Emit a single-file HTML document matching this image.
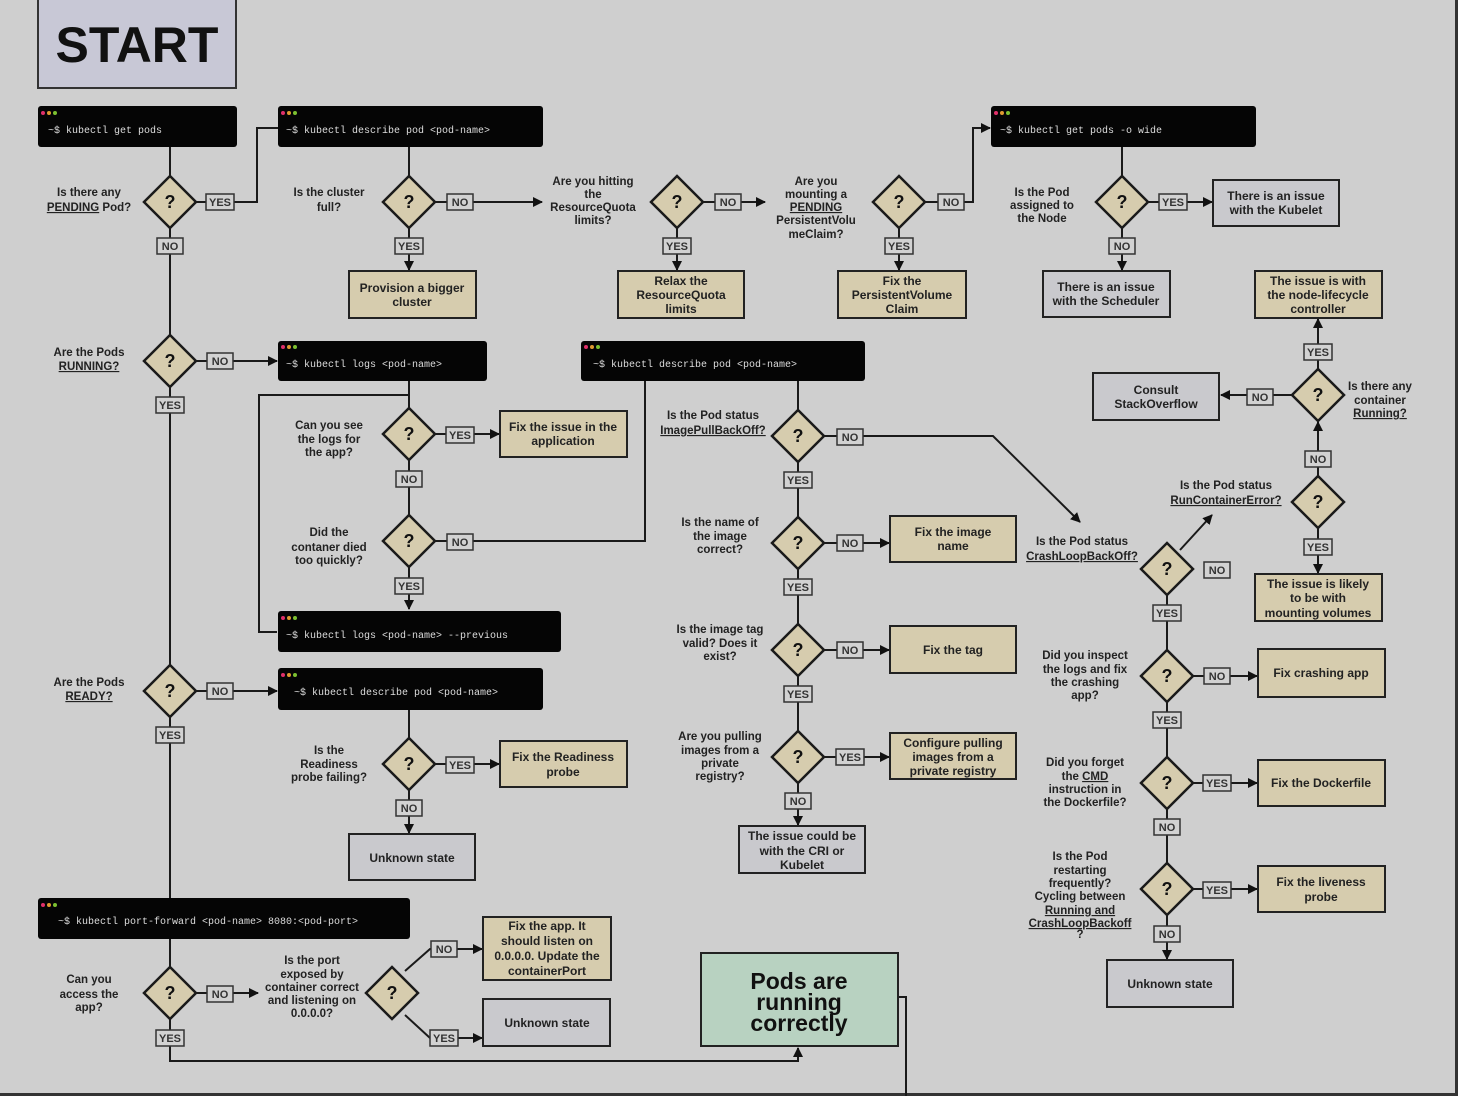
<!DOCTYPE html>
<html><head><meta charset="utf-8">
<style>
html,body{margin:0;padding:0;background:#cfcfcf;}
svg{display:block;}
.q{font-family:"Liberation Sans",sans-serif;font-weight:bold;font-size:11.5px;fill:#222;text-anchor:middle;}
.b{font-family:"Liberation Sans",sans-serif;font-weight:bold;font-size:12px;fill:#222;text-anchor:middle;}
.l{font-family:"Liberation Sans",sans-serif;font-weight:bold;font-size:11px;fill:#333;text-anchor:middle;}
.t{font-family:"Liberation Mono",monospace;font-size:10px;fill:#ddd;}
.qm{font-family:"Liberation Sans",sans-serif;font-weight:bold;font-size:18px;fill:#111;text-anchor:middle;}
.ln{stroke:#1a1a1a;stroke-width:2;fill:none;}
.tan{fill:#d6ccae;stroke:#222;stroke-width:2;}
.gry{fill:#c9c9cd;stroke:#222;stroke-width:2;}
.lb{fill:#d2d2d2;stroke:#333;stroke-width:1.5;}
.dm{fill:#d6ccae;stroke:#1a1a1a;stroke-width:2.5;}
</style></head><body>
<svg width="1458" height="1096" viewBox="0 0 1458 1096" xmlns="http://www.w3.org/2000/svg">
<defs><marker id="a" viewBox="0 0 10 10" refX="9" refY="5" markerWidth="5" markerHeight="5" orient="auto"><path d="M0,0L10,5L0,10z" fill="#111"/></marker></defs>
<rect width="1458" height="1096" fill="#cfcfcf"/>
<rect x="0" y="1093" width="1458" height="3" fill="#333"/>
<rect x="1455" y="0" width="3" height="1096" fill="#333"/>

<!-- START -->
<rect x="38" y="-2" width="198" height="90" fill="#c8c8d6" stroke="#333" stroke-width="2"/>
<text x="137" y="62" font-family="Liberation Sans,sans-serif" font-weight="bold" font-size="50" text-anchor="middle" fill="#111">START</text>

<!-- connectors -->
<g class="ln">
<path d="M170 147V176M170 228V335M170 387V665M170 717V898M170 939V967M170 1019V1061H798V1048" marker-end="url(#a)"/>
<path d="M196 202H257V128H278"/>
<path d="M409 147V176M409 228V270" marker-end="url(#a)"/>
<path d="M435 202H542" marker-end="url(#a)"/>
<path d="M703 202H765" marker-end="url(#a)"/>
<path d="M677 228V270" marker-end="url(#a)"/>
<path d="M925 202H973V128H990" marker-end="url(#a)"/>
<path d="M899 228V270" marker-end="url(#a)"/>
<path d="M1122 147V176M1122 228V270" marker-end="url(#a)"/>
<path d="M1148 202H1212" marker-end="url(#a)"/>
<path d="M196 361H277" marker-end="url(#a)"/>
<path d="M409 381V408M409 460V515"/>
<path d="M435 434H499" marker-end="url(#a)"/>
<path d="M435 541H645V381"/>
<path d="M409 567V609" marker-end="url(#a)"/>
<path d="M409 395H259V632H277"/>
<path d="M196 691H277" marker-end="url(#a)"/>
<path d="M409 710V738M409 790V833" marker-end="url(#a)"/>
<path d="M435 764H499" marker-end="url(#a)"/>
<path d="M196 993H258" marker-end="url(#a)"/>
<path d="M405 971L430 949H482" marker-end="url(#a)"/>
<path d="M405 1015L430 1038H482" marker-end="url(#a)"/>
<path d="M798 381V410M798 462V517M798 569V624M798 676V731M798 783V825" marker-end="url(#a)"/>
<path d="M824 436H993L1080 522" marker-end="url(#a)"/>
<path d="M824 543H889" marker-end="url(#a)"/>
<path d="M824 650H889" marker-end="url(#a)"/>
<path d="M824 757H889" marker-end="url(#a)"/>
<path d="M1180 550L1212 515" marker-end="url(#a)"/>
<path d="M1167 595V650M1167 702V757M1167 809V863M1167 915V959" marker-end="url(#a)"/>
<path d="M1193 676H1257" marker-end="url(#a)"/>
<path d="M1193 783H1257" marker-end="url(#a)"/>
<path d="M1193 889H1257" marker-end="url(#a)"/>
<path d="M1318 528V573" marker-end="url(#a)"/>
<path d="M1318 476V422" marker-end="url(#a)"/>
<path d="M1292 395H1221" marker-end="url(#a)"/>
<path d="M1318 369V319" marker-end="url(#a)"/>
<path d="M898 997H906V1096"/>
</g>

<!-- terminals -->
<g>
<rect x="38" y="106" width="199" height="41" rx="3" fill="#050505"/>
<rect x="278" y="106" width="265" height="41" rx="3" fill="#050505"/>
<rect x="991" y="106" width="265" height="41" rx="3" fill="#050505"/>
<rect x="278" y="341" width="209" height="40" rx="3" fill="#050505"/>
<rect x="581" y="341" width="284" height="40" rx="3" fill="#050505"/>
<rect x="278" y="611" width="283" height="41" rx="3" fill="#050505"/>
<rect x="278" y="668" width="265" height="42" rx="3" fill="#050505"/>
<rect x="38" y="898" width="372" height="41" rx="3" fill="#050505"/>
</g>
<g>
<circle cx="43" cy="113" r="2" fill="#e0306a"/><circle cx="49" cy="113" r="2" fill="#e09a30"/><circle cx="55" cy="113" r="2" fill="#7cc030"/>
<circle cx="283" cy="113" r="2" fill="#e0306a"/><circle cx="289" cy="113" r="2" fill="#e09a30"/><circle cx="295" cy="113" r="2" fill="#7cc030"/>
<circle cx="996" cy="113" r="2" fill="#e0306a"/><circle cx="1002" cy="113" r="2" fill="#e09a30"/><circle cx="1008" cy="113" r="2" fill="#7cc030"/>
<circle cx="283" cy="347" r="2" fill="#e0306a"/><circle cx="289" cy="347" r="2" fill="#e09a30"/><circle cx="295" cy="347" r="2" fill="#7cc030"/>
<circle cx="586" cy="347" r="2" fill="#e0306a"/><circle cx="592" cy="347" r="2" fill="#e09a30"/><circle cx="598" cy="347" r="2" fill="#7cc030"/>
<circle cx="283" cy="618" r="2" fill="#e0306a"/><circle cx="289" cy="618" r="2" fill="#e09a30"/><circle cx="295" cy="618" r="2" fill="#7cc030"/>
<circle cx="283" cy="675" r="2" fill="#e0306a"/><circle cx="289" cy="675" r="2" fill="#e09a30"/><circle cx="295" cy="675" r="2" fill="#7cc030"/>
<circle cx="43" cy="905" r="2" fill="#e0306a"/><circle cx="49" cy="905" r="2" fill="#e09a30"/><circle cx="55" cy="905" r="2" fill="#7cc030"/>
</g>
<text class="t" x="48" y="133">~$ kubectl get pods</text>
<text class="t" x="286" y="133">~$ kubectl describe pod &lt;pod-name&gt;</text>
<text class="t" x="1000" y="133">~$ kubectl get pods -o wide</text>
<text class="t" x="286" y="367">~$ kubectl logs &lt;pod-name&gt;</text>
<text class="t" x="593" y="367">~$ kubectl describe pod &lt;pod-name&gt;</text>
<text class="t" x="286" y="638">~$ kubectl logs &lt;pod-name&gt; --previous</text>
<text class="t" x="294" y="695">~$ kubectl describe pod &lt;pod-name&gt;</text>
<text class="t" x="58" y="924">~$ kubectl port-forward &lt;pod-name&gt; 8080:&lt;pod-port&gt;</text>

<!-- diamonds -->
<g class="dm">
<polygon points="170,176 196,202 170,228 144,202"/>
<polygon points="409,176 435,202 409,228 383,202"/>
<polygon points="677,176 703,202 677,228 651,202"/>
<polygon points="899,176 925,202 899,228 873,202"/>
<polygon points="1122,176 1148,202 1122,228 1096,202"/>
<polygon points="170,335 196,361 170,387 144,361"/>
<polygon points="409,408 435,434 409,460 383,434"/>
<polygon points="409,515 435,541 409,567 383,541"/>
<polygon points="170,665 196,691 170,717 144,691"/>
<polygon points="409,738 435,764 409,790 383,764"/>
<polygon points="170,967 196,993 170,1019 144,993"/>
<polygon points="392,967 418,993 392,1019 366,993"/>
<polygon points="798,410 824,436 798,462 772,436"/>
<polygon points="798,517 824,543 798,569 772,543"/>
<polygon points="798,624 824,650 798,676 772,650"/>
<polygon points="798,731 824,757 798,783 772,757"/>
<polygon points="1167,543 1193,569 1167,595 1141,569"/>
<polygon points="1167,650 1193,676 1167,702 1141,676"/>
<polygon points="1167,757 1193,783 1167,809 1141,783"/>
<polygon points="1167,863 1193,889 1167,915 1141,889"/>
<polygon points="1318,476 1344,502 1318,528 1292,502"/>
<polygon points="1318,369 1344,395 1318,421 1292,395"/>
</g>
<g class="qm">
<text x="170" y="208">?</text><text x="409" y="208">?</text><text x="677" y="208">?</text><text x="899" y="208">?</text><text x="1122" y="208">?</text>
<text x="170" y="367">?</text><text x="409" y="440">?</text><text x="409" y="547">?</text><text x="170" y="697">?</text><text x="409" y="770">?</text>
<text x="170" y="999">?</text><text x="392" y="999">?</text><text x="798" y="442">?</text><text x="798" y="549">?</text><text x="798" y="656">?</text><text x="798" y="763">?</text>
<text x="1167" y="575">?</text><text x="1167" y="682">?</text><text x="1167" y="789">?</text><text x="1167" y="895">?</text><text x="1318" y="508">?</text><text x="1318" y="401">?</text>
</g>

<!-- YES/NO label boxes -->
<g id="labels">
<rect class="lb" x="206" y="194" width="28" height="16"/><text class="l" x="220" y="206">YES</text>
<rect class="lb" x="157" y="238" width="26" height="16"/><text class="l" x="170" y="250">NO</text>
<rect class="lb" x="447" y="194" width="26" height="16"/><text class="l" x="460" y="206">NO</text>
<rect class="lb" x="395" y="238" width="28" height="16"/><text class="l" x="409" y="250">YES</text>
<rect class="lb" x="715" y="194" width="26" height="16"/><text class="l" x="728" y="206">NO</text>
<rect class="lb" x="663" y="238" width="28" height="16"/><text class="l" x="677" y="250">YES</text>
<rect class="lb" x="938" y="194" width="26" height="16"/><text class="l" x="951" y="206">NO</text>
<rect class="lb" x="885" y="238" width="28" height="16"/><text class="l" x="899" y="250">YES</text>
<rect class="lb" x="1159" y="194" width="28" height="16"/><text class="l" x="1173" y="206">YES</text>
<rect class="lb" x="1109" y="238" width="26" height="16"/><text class="l" x="1122" y="250">NO</text>
<rect class="lb" x="207" y="353" width="26" height="16"/><text class="l" x="220" y="365">NO</text>
<rect class="lb" x="156" y="397" width="28" height="16"/><text class="l" x="170" y="409">YES</text>
<rect class="lb" x="446" y="427" width="28" height="16"/><text class="l" x="460" y="439">YES</text>
<rect class="lb" x="396" y="471" width="26" height="16"/><text class="l" x="409" y="483">NO</text>
<rect class="lb" x="447" y="534" width="26" height="16"/><text class="l" x="460" y="546">NO</text>
<rect class="lb" x="395" y="578" width="28" height="16"/><text class="l" x="409" y="590">YES</text>
<rect class="lb" x="207" y="683" width="26" height="16"/><text class="l" x="220" y="695">NO</text>
<rect class="lb" x="156" y="727" width="28" height="16"/><text class="l" x="170" y="739">YES</text>
<rect class="lb" x="446" y="757" width="28" height="16"/><text class="l" x="460" y="769">YES</text>
<rect class="lb" x="396" y="800" width="26" height="16"/><text class="l" x="409" y="812">NO</text>
<rect class="lb" x="207" y="986" width="26" height="16"/><text class="l" x="220" y="998">NO</text>
<rect class="lb" x="156" y="1030" width="28" height="16"/><text class="l" x="170" y="1042">YES</text>
<rect class="lb" x="431" y="941" width="26" height="16"/><text class="l" x="444" y="953">NO</text>
<rect class="lb" x="430" y="1030" width="28" height="16"/><text class="l" x="444" y="1042">YES</text>
<rect class="lb" x="837" y="429" width="26" height="16"/><text class="l" x="850" y="441">NO</text>
<rect class="lb" x="784" y="472" width="28" height="16"/><text class="l" x="798" y="484">YES</text>
<rect class="lb" x="837" y="535" width="26" height="16"/><text class="l" x="850" y="547">NO</text>
<rect class="lb" x="784" y="579" width="28" height="16"/><text class="l" x="798" y="591">YES</text>
<rect class="lb" x="837" y="642" width="26" height="16"/><text class="l" x="850" y="654">NO</text>
<rect class="lb" x="784" y="686" width="28" height="16"/><text class="l" x="798" y="698">YES</text>
<rect class="lb" x="836" y="749" width="28" height="16"/><text class="l" x="850" y="761">YES</text>
<rect class="lb" x="785" y="793" width="26" height="16"/><text class="l" x="798" y="805">NO</text>
<rect class="lb" x="1204" y="562" width="26" height="16"/><text class="l" x="1217" y="574">NO</text>
<rect class="lb" x="1153" y="605" width="28" height="16"/><text class="l" x="1167" y="617">YES</text>
<rect class="lb" x="1204" y="668" width="26" height="16"/><text class="l" x="1217" y="680">NO</text>
<rect class="lb" x="1153" y="712" width="28" height="16"/><text class="l" x="1167" y="724">YES</text>
<rect class="lb" x="1203" y="775" width="28" height="16"/><text class="l" x="1217" y="787">YES</text>
<rect class="lb" x="1154" y="819" width="26" height="16"/><text class="l" x="1167" y="831">NO</text>
<rect class="lb" x="1203" y="882" width="28" height="16"/><text class="l" x="1217" y="894">YES</text>
<rect class="lb" x="1154" y="926" width="26" height="16"/><text class="l" x="1167" y="938">NO</text>
<rect class="lb" x="1304" y="539" width="28" height="16"/><text class="l" x="1318" y="551">YES</text>
<rect class="lb" x="1305" y="451" width="26" height="16"/><text class="l" x="1318" y="463">NO</text>
<rect class="lb" x="1247" y="389" width="26" height="16"/><text class="l" x="1260" y="401">NO</text>
<rect class="lb" x="1304" y="344" width="28" height="16"/><text class="l" x="1318" y="356">YES</text>
</g>

<!-- result boxes -->
<rect class="tan" x="349" y="271" width="127" height="47"/><text class="b" x="412" y="292">Provision a bigger</text><text class="b" x="412" y="306">cluster</text>
<rect class="tan" x="618" y="271" width="126" height="47"/><text class="b" x="681" y="285">Relax the</text><text class="b" x="681" y="299">ResourceQuota</text><text class="b" x="681" y="313">limits</text>
<rect class="tan" x="838" y="271" width="128" height="47"/><text class="b" x="902" y="285">Fix the</text><text class="b" x="902" y="299">PersistentVolume</text><text class="b" x="902" y="313">Claim</text>
<rect class="gry" x="1213" y="180" width="126" height="46"/><text class="b" x="1276" y="200">There is an issue</text><text class="b" x="1276" y="214">with the Kubelet</text>
<rect class="gry" x="1043" y="271" width="127" height="46"/><text class="b" x="1106" y="291">There is an issue</text><text class="b" x="1106" y="305">with the Scheduler</text>
<rect class="tan" x="1255" y="271" width="127" height="47"/><text class="b" x="1318" y="285">The issue is with</text><text class="b" x="1318" y="299">the node-lifecycle</text><text class="b" x="1318" y="313">controller</text>
<rect class="gry" x="1093" y="373" width="126" height="47"/><text class="b" x="1156" y="394">Consult</text><text class="b" x="1156" y="408">StackOverflow</text>
<rect class="tan" x="500" y="411" width="127" height="46"/><text class="b" x="563" y="431">Fix the issue in the</text><text class="b" x="563" y="445">application</text>
<rect class="tan" x="890" y="516" width="126" height="46"/><text class="b" x="953" y="536">Fix the image</text><text class="b" x="953" y="550">name</text>
<rect class="tan" x="1255" y="574" width="127" height="47"/><text class="b" x="1318" y="588">The issue is likely</text><text class="b" x="1318" y="602">to be with</text><text class="b" x="1318" y="617">mounting volumes</text>
<rect class="tan" x="890" y="626" width="126" height="47"/><text class="b" x="953" y="654">Fix the tag</text>
<rect class="tan" x="1258" y="649" width="127" height="48"/><text class="b" x="1321" y="677">Fix crashing app</text>
<rect class="tan" x="500" y="741" width="127" height="46"/><text class="b" x="563" y="761">Fix the Readiness</text><text class="b" x="563" y="776">probe</text>
<rect class="tan" x="890" y="733" width="126" height="46"/><text class="b" x="953" y="747">Configure pulling</text><text class="b" x="953" y="761">images from a</text><text class="b" x="953" y="775">private registry</text>
<rect class="tan" x="1258" y="760" width="127" height="46"/><text class="b" x="1321" y="787">Fix the Dockerfile</text>
<rect class="gry" x="349" y="834" width="126" height="46"/><text class="b" x="412" y="862">Unknown state</text>
<rect class="gry" x="739" y="826" width="126" height="47"/><text class="b" x="802" y="840">The issue could be</text><text class="b" x="802" y="855">with the CRI or</text><text class="b" x="802" y="869">Kubelet</text>
<rect class="tan" x="1258" y="866" width="127" height="46"/><text class="b" x="1321" y="886">Fix the liveness</text><text class="b" x="1321" y="901">probe</text>
<rect class="gry" x="1107" y="960" width="126" height="47"/><text class="b" x="1170" y="988">Unknown state</text>
<rect class="tan" x="483" y="917" width="128" height="63"/><text class="b" x="547" y="930">Fix the app. It</text><text class="b" x="547" y="945">should listen on</text><text class="b" x="547" y="960">0.0.0.0. Update the</text><text class="b" x="547" y="975">containerPort</text>
<rect class="gry" x="483" y="999" width="127" height="47"/><text class="b" x="547" y="1027">Unknown state</text>
<rect x="701" y="953" width="197" height="93" fill="#b8d2c1" stroke="#222" stroke-width="2"/>
<text x="799" y="989" font-family="Liberation Sans,sans-serif" font-weight="bold" font-size="23" text-anchor="middle" fill="#111">Pods are</text>
<text x="799" y="1010" font-family="Liberation Sans,sans-serif" font-weight="bold" font-size="23" text-anchor="middle" fill="#111">running</text>
<text x="799" y="1031" font-family="Liberation Sans,sans-serif" font-weight="bold" font-size="23" text-anchor="middle" fill="#111">correctly</text>

<!-- questions -->
<g class="q">
<text x="89" y="196">Is there any</text><text x="89" y="211"><tspan text-decoration="underline">PENDING</tspan> Pod?</text>
<text x="329" y="196">Is the cluster</text><text x="329" y="211">full?</text>
<text x="593" y="185">Are you hitting</text><text x="593" y="198">the</text><text x="593" y="211">ResourceQuota</text><text x="593" y="224">limits?</text>
<text x="816" y="185">Are you</text><text x="816" y="198">mounting a</text><text x="816" y="211" text-decoration="underline">PENDING</text><text x="816" y="224">PersistentVolu</text><text x="816" y="238">meClaim?</text>
<text x="1042" y="196">Is the Pod</text><text x="1042" y="209">assigned to</text><text x="1042" y="222">the Node</text>
<text x="89" y="356">Are the Pods</text><text x="89" y="370" text-decoration="underline">RUNNING?</text>
<text x="329" y="429">Can you see</text><text x="329" y="443">the logs for</text><text x="329" y="456">the app?</text>
<text x="329" y="536">Did the</text><text x="329" y="551">contaner died</text><text x="329" y="564">too quickly?</text>
<text x="89" y="686">Are the Pods</text><text x="89" y="700" text-decoration="underline">READY?</text>
<text x="329" y="754">Is the</text><text x="329" y="768">Readiness</text><text x="329" y="781">probe failing?</text>
<text x="89" y="983">Can you</text><text x="89" y="998">access the</text><text x="89" y="1011">app?</text>
<text x="312" y="964">Is the port</text><text x="312" y="978">exposed by</text><text x="312" y="991">container correct</text><text x="312" y="1004">and listening on</text><text x="312" y="1017">0.0.0.0?</text>
<text x="713" y="419">Is the Pod status</text><text x="713" y="434" text-decoration="underline">ImagePullBackOff?</text>
<text x="720" y="526">Is the name of</text><text x="720" y="540">the image</text><text x="720" y="553">correct?</text>
<text x="720" y="633">Is the image tag</text><text x="720" y="647">valid? Does it</text><text x="720" y="660">exist?</text>
<text x="720" y="740">Are you pulling</text><text x="720" y="754">images from a</text><text x="720" y="767">private</text><text x="720" y="780">registry?</text>
<text x="1082" y="545">Is the Pod status</text><text x="1082" y="560" text-decoration="underline">CrashLoopBackOff?</text>
<text x="1226" y="489">Is the Pod status</text><text x="1226" y="504" text-decoration="underline">RunContainerError?</text>
<text x="1380" y="390">Is there any</text><text x="1380" y="404">container</text><text x="1380" y="417" text-decoration="underline">Running?</text>
<text x="1085" y="659">Did you inspect</text><text x="1085" y="673">the logs and fix</text><text x="1085" y="686">the crashing</text><text x="1085" y="699">app?</text>
<text x="1085" y="766">Did you forget</text><text x="1085" y="780">the <tspan text-decoration="underline">CMD</tspan></text><text x="1085" y="793">instruction in</text><text x="1085" y="806">the Dockerfile?</text>
<text x="1080" y="860">Is the Pod</text><text x="1080" y="874">restarting</text><text x="1080" y="887">frequently?</text><text x="1080" y="900">Cycling between</text><text x="1080" y="914" text-decoration="underline">Running and</text><text x="1080" y="927" text-decoration="underline">CrashLoopBackoff</text><text x="1080" y="938">?</text>
</g>
</svg>
</body></html>
